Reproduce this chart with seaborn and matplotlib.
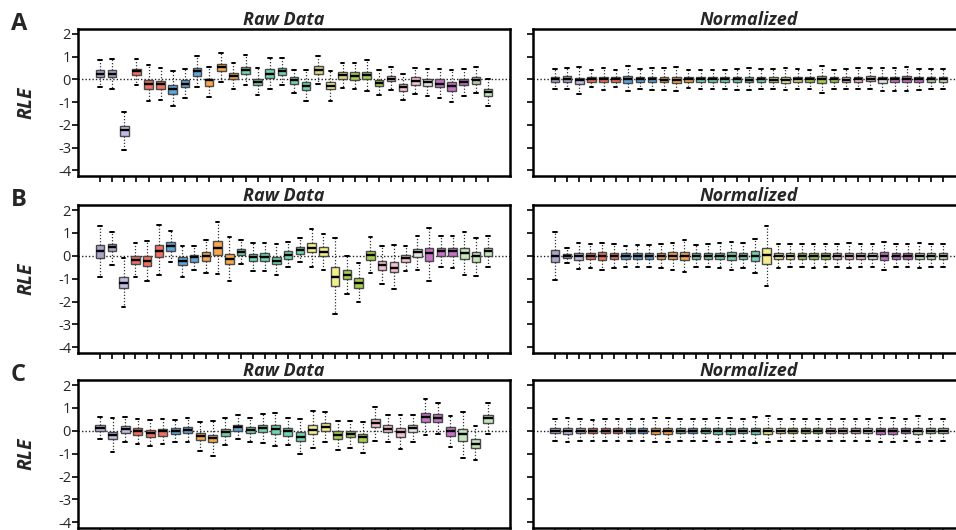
import numpy as np
import pandas as pd
import matplotlib
matplotlib.use('Agg')
import matplotlib.pyplot as plt
import seaborn as sns

# each box: (whisker low, q1, median, q3, whisker high)
A_RAW = [(-0.32, 0.09, 0.24, 0.40, 0.84), (-0.41, 0.09, 0.25, 0.43, 0.91), (-3.10, -2.49, -2.24, -2.04, -1.43),
         (-0.24, 0.18, 0.37, 0.46, 0.91), (-0.96, -0.41, -0.18, -0.03, 0.62), (-0.91, -0.41, -0.20, -0.06, 0.50),
         (-1.15, -0.62, -0.40, -0.24, 0.37), (-0.82, -0.35, -0.18, -0.03, 0.47), (-0.35, 0.15, 0.35, 0.50, 1.04),
         (-0.76, -0.28, -0.03, 0.04, 0.54), (-0.10, 0.37, 0.56, 0.69, 1.18), (-0.40, 0.01, 0.16, 0.28, 0.71),
         (-0.24, 0.24, 0.41, 0.54, 1.07), (-0.69, -0.26, -0.10, 0.03, 0.49), (-0.43, 0.07, 0.26, 0.47, 0.93),
         (-0.26, 0.18, 0.37, 0.50, 0.96), (-0.59, -0.18, -0.03, 0.09, 0.43), (-0.95, -0.48, -0.30, -0.12, 0.41),
         (-0.18, 0.25, 0.41, 0.59, 1.03), (-0.93, -0.44, -0.28, -0.10, 0.38), (-0.37, 0.00, 0.18, 0.31, 0.71),
         (-0.44, -0.03, 0.16, 0.31, 0.74), (-0.51, 0.00, 0.18, 0.34, 0.84), (-0.69, -0.28, -0.15, -0.01, 0.40),
         (-0.47, -0.09, 0.04, 0.16, 0.53), (-0.91, -0.50, -0.35, -0.21, 0.22), (-0.65, -0.24, -0.07, 0.09, 0.51),
         (-0.75, -0.29, -0.13, 0.03, 0.44), (-0.82, -0.35, -0.19, 0.00, 0.46), (-1.00, -0.50, -0.31, -0.12, 0.40),
         (-0.72, -0.26, -0.13, 0.03, 0.46), (-0.59, -0.18, -0.01, 0.12, 0.53), (-1.15, -0.72, -0.57, -0.43, 0.00)]

A_NORM = [(-0.41, -0.10, 0.00, 0.10, 0.44), (-0.43, -0.10, 0.01, 0.13, 0.50), (-0.62, -0.22, -0.03, 0.07, 0.56),
          (-0.35, -0.10, 0.01, 0.10, 0.40), (-0.46, -0.13, 0.00, 0.12, 0.49), (-0.35, -0.10, 0.01, 0.09, 0.40),
          (-0.53, -0.15, 0.01, 0.13, 0.59), (-0.43, -0.12, 0.00, 0.10, 0.44), (-0.46, -0.12, 0.00, 0.10, 0.49),
          (-0.46, -0.13, -0.01, 0.10, 0.49), (-0.51, -0.15, -0.01, 0.12, 0.54), (-0.38, -0.10, 0.01, 0.10, 0.41),
          (-0.41, -0.12, 0.00, 0.10, 0.43), (-0.40, -0.12, 0.00, 0.09, 0.41), (-0.43, -0.12, 0.00, 0.10, 0.43),
          (-0.47, -0.13, 0.00, 0.12, 0.47), (-0.47, -0.13, -0.01, 0.10, 0.49), (-0.41, -0.10, 0.00, 0.10, 0.44),
          (-0.43, -0.13, -0.03, 0.10, 0.46), (-0.47, -0.15, -0.03, 0.12, 0.50), (-0.41, -0.12, 0.01, 0.10, 0.46),
          (-0.41, -0.10, 0.01, 0.10, 0.43), (-0.59, -0.15, 0.01, 0.13, 0.57), (-0.41, -0.10, 0.00, 0.10, 0.43),
          (-0.41, -0.12, -0.01, 0.10, 0.44), (-0.44, -0.12, 0.00, 0.12, 0.49), (-0.40, -0.09, 0.04, 0.13, 0.50),
          (-0.49, -0.16, 0.00, 0.10, 0.49), (-0.49, -0.13, 0.00, 0.12, 0.50), (-0.49, -0.12, 0.01, 0.13, 0.56),
          (-0.46, -0.12, 0.00, 0.10, 0.47), (-0.43, -0.10, 0.01, 0.10, 0.44), (-0.44, -0.12, 0.00, 0.10, 0.44)]

B_RAW = [(-0.91, -0.09, 0.21, 0.47, 1.32), (-0.40, 0.19, 0.37, 0.51, 1.06), (-2.24, -1.43, -1.21, -0.91, -0.09),
         (-0.91, -0.35, -0.18, 0.00, 0.56), (-1.10, -0.44, -0.22, -0.03, 0.65), (-0.85, -0.06, 0.22, 0.47, 1.34),
         (-0.29, 0.21, 0.41, 0.59, 1.09), (-0.91, -0.41, -0.22, -0.07, 0.41), (-0.62, -0.25, -0.07, 0.04, 0.43),
         (-0.76, -0.24, 0.00, 0.16, 0.68), (-0.81, 0.04, 0.35, 0.63, 1.49), (-1.09, -0.37, -0.16, 0.06, 0.81),
         (-0.35, 0.03, 0.18, 0.31, 0.71), (-0.66, -0.22, -0.06, 0.09, 0.54), (-0.65, -0.22, -0.04, 0.12, 0.57),
         (-0.85, -0.37, -0.21, -0.07, 0.53), (-0.50, -0.12, 0.04, 0.19, 0.62), (-0.29, 0.09, 0.24, 0.37, 0.76),
         (-0.50, 0.15, 0.35, 0.56, 1.18), (-0.62, -0.01, 0.16, 0.37, 0.96), (-2.53, -1.32, -0.94, -0.47, 0.76),
         (-1.68, -1.03, -0.85, -0.62, -0.03), (-2.01, -1.40, -1.21, -0.96, -0.32), (-0.76, -0.18, 0.03, 0.22, 0.82),
         (-1.24, -0.62, -0.41, -0.22, 0.41), (-1.47, -0.72, -0.53, -0.25, 0.49), (-0.65, -0.26, -0.10, 0.03, 0.44),
         (-0.62, -0.06, 0.15, 0.29, 0.85), (-1.10, -0.24, 0.12, 0.35, 1.22), (-0.50, 0.00, 0.21, 0.34, 0.85),
         (-0.54, 0.00, 0.22, 0.34, 0.88), (-0.84, -0.13, 0.10, 0.34, 1.04), (-0.87, -0.26, -0.03, 0.18, 0.78),
         (-0.51, 0.00, 0.21, 0.34, 0.85)]

B_NORM = [(-1.08, -0.28, 0.00, 0.26, 1.02), (-0.32, -0.10, 0.00, 0.09, 0.35), (-0.58, -0.17, 0.00, 0.13, 0.55),
          (-0.54, -0.15, 0.00, 0.12, 0.51), (-0.61, -0.17, 0.00, 0.15, 0.58), (-0.55, -0.16, 0.00, 0.13, 0.52),
          (-0.47, -0.12, 0.00, 0.10, 0.44), (-0.47, -0.12, 0.00, 0.10, 0.48), (-0.50, -0.12, 0.00, 0.12, 0.48),
          (-0.54, -0.13, 0.00, 0.12, 0.52), (-0.61, -0.16, 0.00, 0.15, 0.58), (-0.71, -0.20, 0.00, 0.16, 0.67),
          (-0.48, -0.12, 0.00, 0.10, 0.47), (-0.51, -0.13, 0.00, 0.12, 0.51), (-0.55, -0.15, 0.00, 0.13, 0.54),
          (-0.64, -0.19, 0.00, 0.16, 0.62), (-0.55, -0.14, 0.00, 0.13, 0.55), (-0.75, -0.22, 0.00, 0.20, 0.72),
          (-1.30, -0.35, 0.02, 0.35, 1.30), (-0.55, -0.13, 0.00, 0.12, 0.52), (-0.50, -0.12, 0.00, 0.12, 0.50),
          (-0.50, -0.12, 0.00, 0.12, 0.50), (-0.55, -0.13, 0.00, 0.12, 0.52), (-0.50, -0.12, 0.00, 0.12, 0.50),
          (-0.50, -0.12, 0.00, 0.12, 0.50), (-0.55, -0.13, 0.00, 0.13, 0.55), (-0.50, -0.12, 0.00, 0.12, 0.50),
          (-0.50, -0.12, 0.00, 0.12, 0.50), (-0.60, -0.18, 0.00, 0.16, 0.60), (-0.50, -0.12, 0.00, 0.12, 0.50),
          (-0.50, -0.12, 0.00, 0.12, 0.50), (-0.55, -0.13, 0.00, 0.13, 0.55), (-0.50, -0.12, 0.00, 0.12, 0.50),
          (-0.50, -0.12, 0.00, 0.12, 0.50)]

C_RAW = [(-0.38, -0.03, 0.12, 0.25, 0.62), (-0.91, -0.38, -0.18, -0.07, 0.56), (-0.47, -0.09, 0.06, 0.19, 0.62),
         (-0.56, -0.18, 0.00, 0.12, 0.51), (-0.68, -0.26, -0.10, 0.03, 0.47), (-0.59, -0.21, -0.03, 0.09, 0.51),
         (-0.51, -0.16, -0.01, 0.12, 0.46), (-0.50, -0.10, 0.03, 0.16, 0.56), (-0.88, -0.41, -0.22, -0.10, 0.38),
         (-1.09, -0.51, -0.32, -0.18, 0.41), (-0.63, -0.22, -0.06, 0.07, 0.54), (-0.38, 0.00, 0.15, 0.26, 0.68),
         (-0.47, -0.09, 0.04, 0.18, 0.56), (-0.53, -0.07, 0.12, 0.26, 0.74), (-0.68, -0.15, 0.06, 0.25, 0.78),
         (-0.62, -0.21, -0.03, 0.12, 0.54), (-1.00, -0.44, -0.25, -0.04, 0.51), (-0.76, -0.15, 0.04, 0.24, 0.85),
         (-0.51, -0.03, 0.18, 0.32, 0.81), (-0.82, -0.37, -0.18, -0.03, 0.44), (-0.74, -0.29, -0.15, 0.00, 0.44),
         (-0.96, -0.47, -0.29, -0.12, 0.37), (-0.44, 0.15, 0.32, 0.51, 1.06), (-0.51, -0.07, 0.09, 0.25, 0.68),
         (-0.78, -0.25, -0.04, 0.12, 0.68), (-0.49, -0.06, 0.10, 0.25, 0.68), (-0.19, 0.38, 0.59, 0.78, 1.37),
         (-0.12, 0.38, 0.56, 0.72, 1.21), (-0.71, -0.21, -0.03, 0.15, 0.65), (-1.18, -0.43, -0.15, 0.07, 0.81),
         (-1.29, -0.76, -0.56, -0.38, 0.19), (-0.16, 0.35, 0.54, 0.71, 1.21)]

C_NORM = [(-0.45, -0.10, 0.00, 0.10, 0.50), (-0.50, -0.13, -0.02, 0.10, 0.55), (-0.45, -0.10, 0.00, 0.10, 0.50),
          (-0.45, -0.10, 0.00, 0.10, 0.45), (-0.45, -0.10, 0.00, 0.10, 0.50), (-0.45, -0.10, 0.00, 0.10, 0.50),
          (-0.45, -0.10, 0.00, 0.10, 0.50), (-0.45, -0.10, 0.00, 0.10, 0.50), (-0.50, -0.13, 0.00, 0.12, 0.55),
          (-0.50, -0.13, 0.00, 0.12, 0.55), (-0.45, -0.10, 0.00, 0.10, 0.50), (-0.45, -0.10, 0.00, 0.10, 0.50),
          (-0.45, -0.10, 0.00, 0.10, 0.50), (-0.50, -0.12, 0.00, 0.12, 0.55), (-0.50, -0.12, 0.00, 0.12, 0.55),
          (-0.45, -0.10, 0.00, 0.10, 0.50), (-0.55, -0.15, 0.00, 0.13, 0.60), (-0.50, -0.12, 0.00, 0.12, 0.65),
          (-0.45, -0.10, 0.00, 0.10, 0.50), (-0.45, -0.10, 0.00, 0.10, 0.50), (-0.45, -0.10, 0.00, 0.10, 0.50),
          (-0.45, -0.10, 0.00, 0.10, 0.50), (-0.45, -0.10, 0.00, 0.10, 0.50), (-0.45, -0.10, 0.00, 0.10, 0.50),
          (-0.45, -0.10, 0.00, 0.10, 0.50), (-0.45, -0.10, 0.00, 0.10, 0.50), (-0.50, -0.12, 0.00, 0.12, 0.55),
          (-0.50, -0.12, 0.00, 0.12, 0.55), (-0.45, -0.10, 0.00, 0.10, 0.50), (-0.50, -0.12, 0.00, 0.12, 0.65),
          (-0.45, -0.10, 0.00, 0.10, 0.50), (-0.45, -0.10, 0.00, 0.10, 0.50)]

PU, LV, RD, BL, OR, TL = '#a9a5cf', '#c2bbe3', '#f2705f', '#5da5da', '#f9a74b', '#72d4b4'
YE, OL, GR, PK, WH, MG, SG, LG = '#f2ef8c', '#dcd87e', '#a6cf4e', '#f6bfd3', '#e4e4e4', '#c872c8', '#b8d0aa', '#c5e6bb'

A_COLORS = [PU, PU, LV, RD, RD, RD, BL, BL, BL, OR, OR, OR, TL, TL, TL, TL, TL, TL,
            OL, YE, OL, GR, GR, GR, PK, PK, PK, WH, MG, MG, MG, SG, LG]
B_COLORS = [PU, PU, LV, RD, RD, RD, BL, BL, BL, OR, OR, OR, TL, TL, TL, TL, TL, TL,
            YE, YE, YE, GR, GR, GR, PK, PK, PK, WH, MG, MG, MG, LG, LG, LG]
C_COLORS = [LV, LV, LV, RD, RD, RD, BL, BL, OR, OR, TL, BL, TL, TL, TL, TL, TL,
            YE, YE, GR, GR, GR, PK, PK, PK, WH, MG, MG, MG, LG, LG, LG]

ROWS = [('A', A_RAW, A_NORM, A_COLORS), ('B', B_RAW, B_NORM, B_COLORS), ('C', C_RAW, C_NORM, C_COLORS)]

sns.set_style('white')
plt.rcParams['font.family'] = ['Open Sans', 'DejaVu Sans']
plt.rcParams['axes.unicode_minus'] = False

W, H = 956, 530
fig = plt.figure(figsize=(W / 100, H / 100), dpi=100)

# axes boxes in pixels: (top, height); columns share width
row_px = [(29, 147), (205, 148), (380, 148)]
col_left = [78, 533]
ax_w = 432
title_x = [0.477, 0.5]


def to_long(stats):
    rows = []
    for i, s in enumerate(stats):
        for v in s:
            rows.append({'sample': f's{i + 1}', 'rle': v})
    return pd.DataFrame(rows)


for r, (letter, raw, norm, colors) in enumerate(ROWS):
    top, h = row_px[r]
    for c, (stats, title) in enumerate([(raw, 'Raw Data'), (norm, 'Normalized')]):
        ax = fig.add_axes([col_left[c] / W, 1 - (top + h) / H, ax_w / W, h / H])
        df = to_long(stats)
        n = len(stats)
        ax.axhline(0, color='#222222', ls=(0, (1, 1.5)), lw=1, zorder=0)
        sns.boxplot(data=df, x='sample', y='rle', hue='sample', palette=colors, legend=False,
                    whis=(0, 100), width=0.72, saturation=1, linecolor='#4a4a4a', linewidth=1,
                    medianprops=dict(color='black', linewidth=1.7),
                    whiskerprops=dict(color='#333333', linestyle=(0, (1, 1.5)), linewidth=0.9),
                    capprops=dict(color='black', linewidth=1.4),
                    capwidths=0.3, ax=ax)
        pad = 22 * (n - 1) / 388
        ax.set_xlim(-pad, n - 1 + pad)
        ax.set_ylim(-4.25, 2.22)
        ax.set_yticks(range(-4, 3))
        ax.set_xticks(range(n))
        ax.set_xticklabels([])
        ax.set_xlabel('')
        for sp in ax.spines.values():
            sp.set_visible(True)
            sp.set_color('black')
            sp.set_linewidth(1.8)
        ax.tick_params(axis='both', direction='out', length=4, width=1.2, color='black',
                       left=True, bottom=True, labelsize=10.5, pad=1)
        ax.set_title(title, x=title_x[c], fontsize=13, fontweight='bold', fontstyle='italic', pad=3)
        if c == 0:
            ax.set_ylabel('RLE', fontsize=14, fontweight='bold', fontstyle='italic')
            ax.yaxis.set_label_coords(-0.095, 0.5)
        else:
            ax.set_ylabel('')
            ax.set_yticklabels([])
    fig.text(11 / W, 1 - (top - 17) / H, letter, fontsize=17, fontweight='bold', va='top', ha='left')

fig.savefig('out.png', dpi=100)
